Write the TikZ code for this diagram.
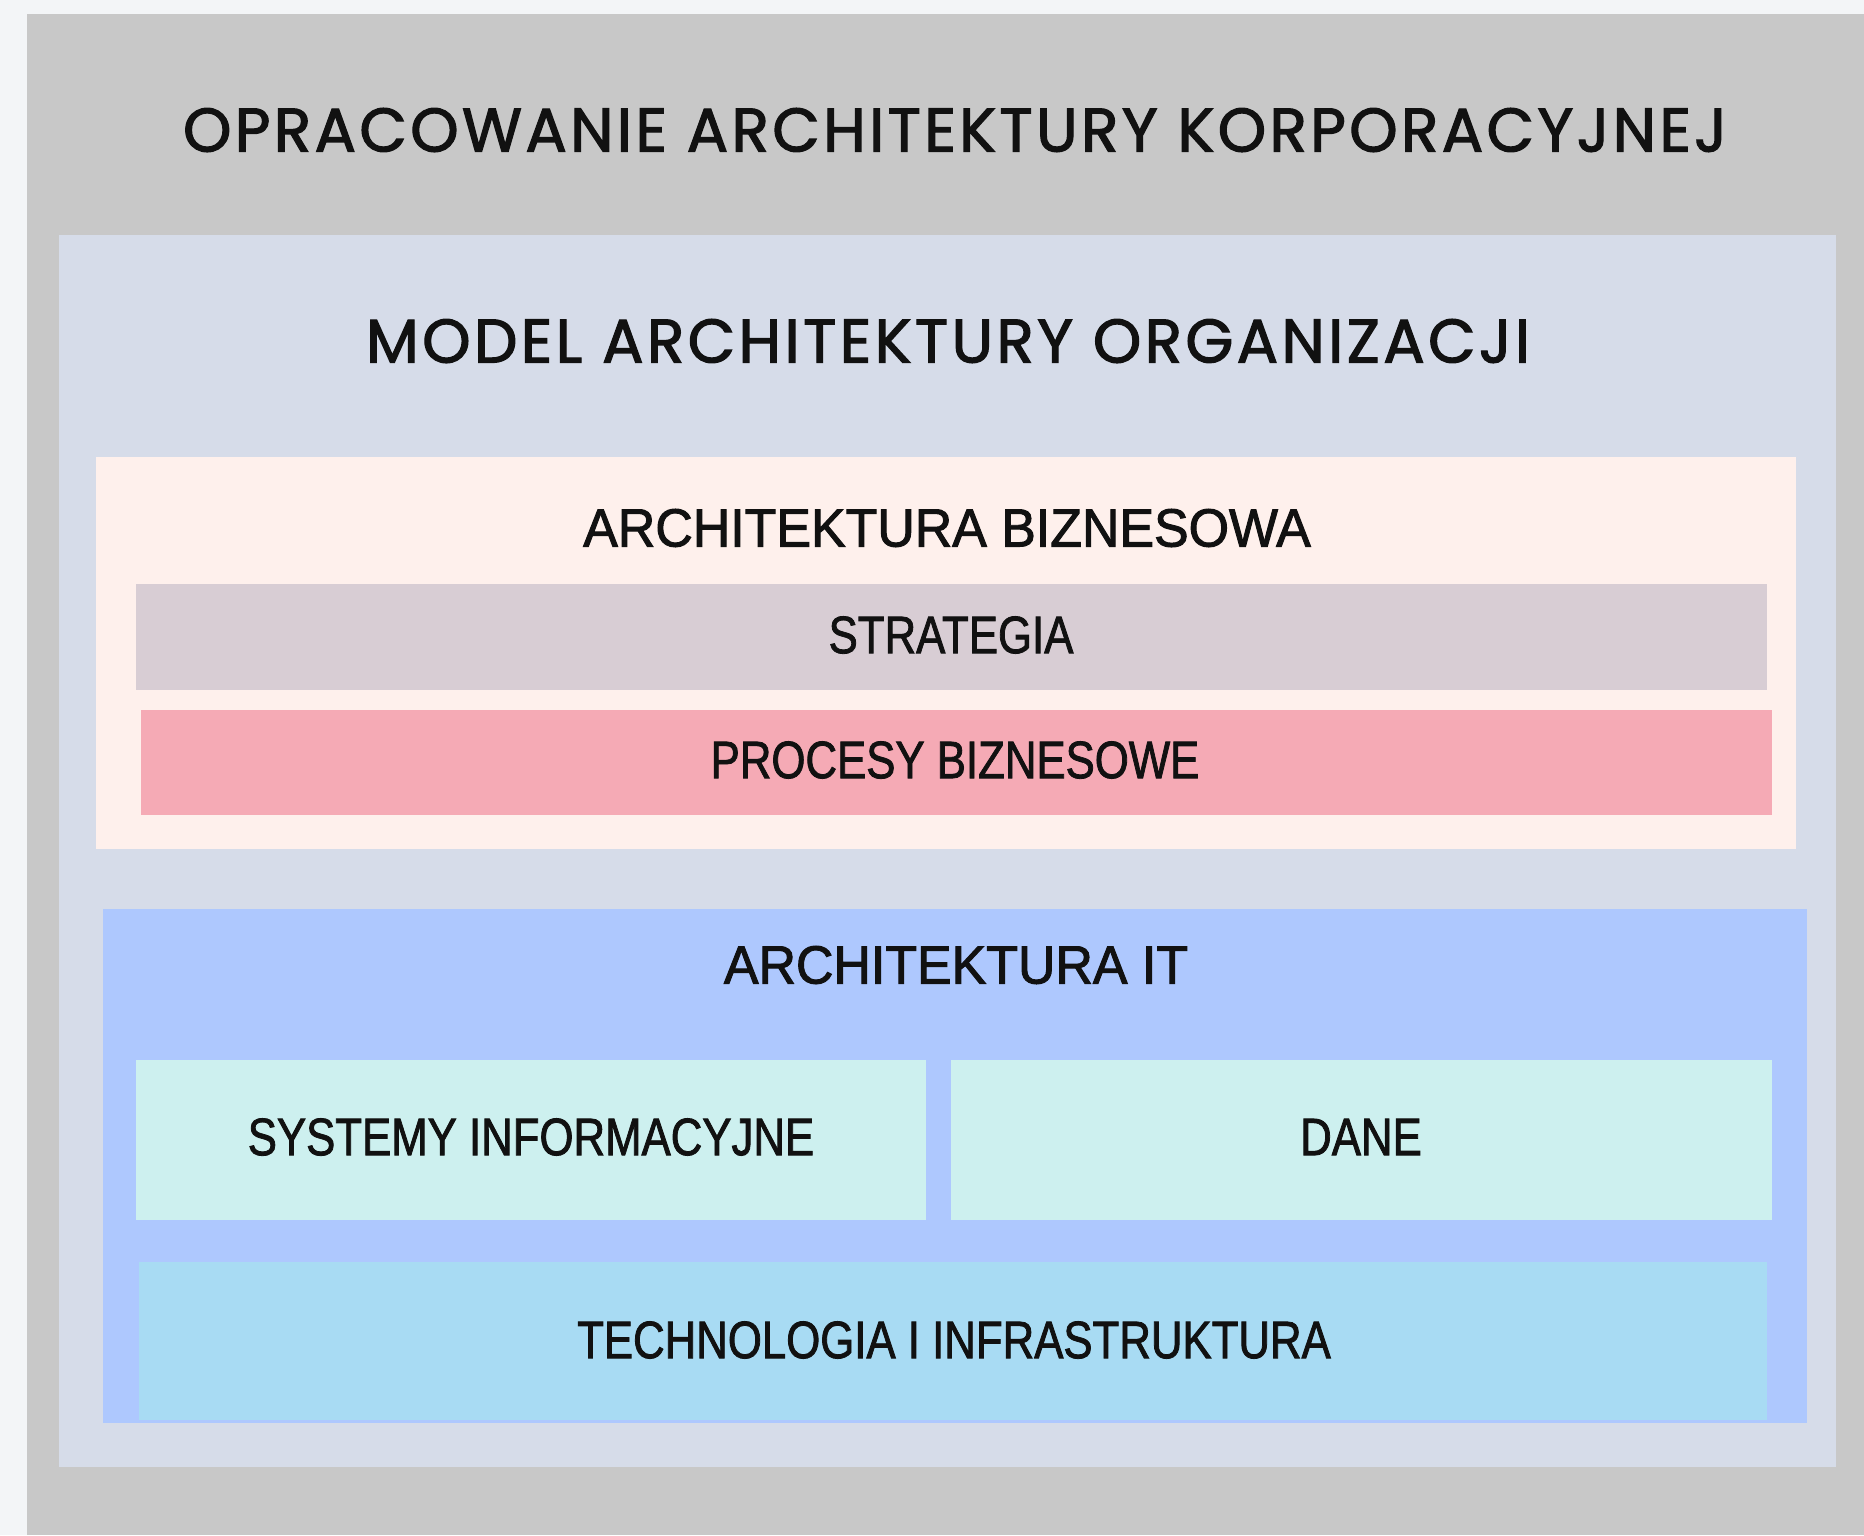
\documentclass[tikz,border=0pt]{standalone}
\usepackage{fontspec}
\usepackage{tikz}
\usetikzlibrary{positioning}
\usepackage{xcolor}
\newfontfamily\headfont[LetterSpace=5.5,FakeBold=2]{Poppins}
\newfontfamily\groupfont[FakeStretch=0.965,FakeBold=1.8]{Liberation Sans}
\newfontfamily\labelfont[FakeStretch=0.83,FakeBold=1.5]{Liberation Sans}
\definecolor{pagebg}{HTML}{F3F5F7}
\definecolor{framegray}{HTML}{C8C8C8}
\definecolor{modelbg}{HTML}{D6DCE9}
\definecolor{bizbg}{HTML}{FEF0EC}
\definecolor{stratbg}{HTML}{D8CDD4}
\definecolor{procbg}{HTML}{F5AAB5}
\definecolor{itbg}{HTML}{AEC8FE}
\definecolor{sysbg}{HTML}{CDF0EF}
\definecolor{techbg}{HTML}{A8DBF3}
\definecolor{ink}{HTML}{111111}
\tikzset{
  heading/.style={text=ink,font=\headfont\fontsize{17.5}{20}\selectfont,inner sep=0pt},
  grouplabel/.style={text=ink,font=\groupfont\fontsize{15.3}{18}\selectfont,inner sep=0pt},
  layerlabel/.style={text=ink,font=\labelfont\fontsize{15}{18}\selectfont,inner sep=0pt}
}

\begin{document}
\begin{tikzpicture}
    % page and outer frame
    \fill[pagebg] (0,0) rectangle (18.64,-15.35);
    \fill[framegray] (0.27,-0.14) rectangle (18.64,-15.35);
    \node[heading] (dev) at (9.55,-1.30) {OPRACOWANIE ARCHITEKTURY KORPORACYJNEJ};

    % organisation model
    \fill[modelbg] (0.59,-2.35) rectangle (18.36,-14.67);
    \node[heading] (model) at (9.48,-3.41) {MODEL ARCHITEKTURY ORGANIZACJI};

    % business architecture
    \fill[bizbg] (0.96,-4.57) rectangle (17.96,-8.49);
    \node[grouplabel] (biz) at (9.47,-5.28) {ARCHITEKTURA BIZNESOWA};
    \fill[stratbg] (1.36,-5.84) rectangle (17.67,-6.90);
    \node[layerlabel] (strategy) at (9.51,-6.35) {STRATEGIA};
    \fill[procbg] (1.41,-7.10) rectangle (17.72,-8.15);
    \node[layerlabel] (processes) at (9.55,-7.60) {PROCESY BIZNESOWE};

    % IT architecture
    \fill[itbg] (1.03,-9.09) rectangle (18.07,-14.23);
    \node[grouplabel] (it) at (9.56,-9.65) {ARCHITEKTURA IT};
    \fill[sysbg] (1.36,-10.60) rectangle (9.26,-12.20);
    \node[layerlabel] (systems) at (5.31,-11.37) {SYSTEMY INFORMACYJNE};
    \fill[sysbg] (9.51,-10.60) rectangle (17.72,-12.20);
    \node[layerlabel] (data) at (13.61,-11.37) {DANE};
    \fill[techbg] (1.39,-12.62) rectangle (17.67,-14.20);
    \node[layerlabel] (tech) at (9.54,-13.40) {TECHNOLOGIA I INFRASTRUKTURA};
\end{tikzpicture}
\end{document}
